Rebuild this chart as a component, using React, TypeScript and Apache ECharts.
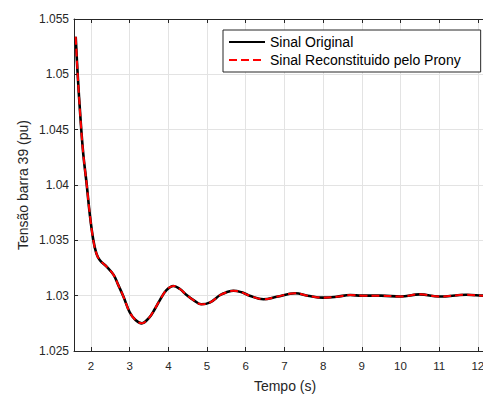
import React, { useEffect, useRef } from "react";
import * as echarts from "echarts";

const time = [1.604, 1.655, 1.73, 1.8, 1.89, 1.97, 2.06, 2.14, 2.23, 2.41, 2.58, 2.7, 2.84, 3.0, 3.15, 3.31, 3.5, 3.65, 3.78, 3.95, 4.13, 4.3, 4.47, 4.65, 4.85, 5.08, 5.34, 5.5, 5.68, 5.9, 6.1, 6.46, 6.8, 7.28, 7.6, 8.0, 8.35, 8.7, 9.0, 9.5, 10.0, 10.5, 11.0, 11.7, 12.2, 12.5];
const original = [1.0534, 1.05, 1.0459, 1.0428, 1.04, 1.0373, 1.035, 1.0338, 1.0332, 1.0326, 1.0319, 1.031, 1.0299, 1.0285, 1.0278, 1.0275, 1.028, 1.0288, 1.0296, 1.0305, 1.03088, 1.0306, 1.03006, 1.0296, 1.02922, 1.0294, 1.03006, 1.0303, 1.03045, 1.0303, 1.03, 1.02967, 1.0299, 1.03022, 1.03, 1.02982, 1.0299, 1.03006, 1.03, 1.03, 1.02992, 1.03012, 1.02992, 1.03008, 1.03, 1.03];
const prony = original.slice();

const seriesNames = ["Sinal Original", "Sinal Reconstituido pelo Prony"];
const xLabelName = "Tempo (s)";
const yLabelName = "Tensão barra 39 (pu)";

export default function App() {
  const ref = useRef<HTMLDivElement>(null);
  useEffect(() => {
    if (!ref.current) return;
    const chart = echarts.init(ref.current, null, { renderer: "svg" });
    const font = "'Liberation Sans', Arial, sans-serif";
    const axisColor = "#262626";
    const gridColor = "#e3e3e3";
    chart.setOption({
      animation: false,
      grid: { left: 74, top: 19, bottom: 43, right: 0, outerBoundsMode: "none", containLabel: false },
      legend: {
        orient: "vertical",
        left: 223,
        top: 30,
        padding: [5, 20, 5, 5],
        itemGap: 4,
        itemWidth: 36,
        itemHeight: 16,
        backgroundColor: "#fff",
        borderColor: axisColor,
        borderWidth: 1,
        borderRadius: 0,
        itemStyle: { opacity: 0 },
        textStyle: { fontFamily: font, fontSize: 14, color: "#000" },
        data: seriesNames,
      },
      xAxis: [
        {
          type: "value",
          min: 1.56,
          max: 12.47,
          splitNumber: 10,
          name: xLabelName,
          nameLocation: "middle",
          nameGap: 28,
          nameTextStyle: { fontFamily: font, fontSize: 14, color: axisColor, verticalAlign: "top" },
          axisLine: { show: true, onZero: false, lineStyle: { color: axisColor, width: 1 } },
          axisTick: { show: true, inside: true, length: 4, lineStyle: { color: axisColor } },
          axisLabel: { fontFamily: font, fontSize: 11.5, color: axisColor, margin: 9, showMinLabel: false, showMaxLabel: false },
          splitLine: { show: true, lineStyle: { color: gridColor, width: 1 } },
        },
        {
          type: "value",
          position: "top",
          min: 1.56,
          max: 12.47,
          splitNumber: 10,
          axisLine: { show: true, onZero: false, lineStyle: { color: axisColor, width: 1 } },
          axisTick: { show: true, inside: true, length: 4, lineStyle: { color: axisColor } },
          axisLabel: { show: false },
          splitLine: { show: false },
        },
      ],
      yAxis: {
        type: "value",
        min: 1.025,
        max: 1.055,
        interval: 0.005,
        name: yLabelName,
        nameLocation: "middle",
        nameGap: 44,
        nameMoveOverlap: false,
        nameTextStyle: { fontFamily: font, fontSize: 14, color: axisColor },
        axisLine: { show: true, onZero: false, lineStyle: { color: axisColor, width: 1 } },
        axisTick: { show: true, inside: true, length: 4, lineStyle: { color: axisColor } },
        axisLabel: {
          fontFamily: font,
          fontSize: 12,
          color: axisColor,
          margin: 5,
          formatter: (v: number) => String(parseFloat(v.toFixed(3))),
        },
        splitLine: { show: true, lineStyle: { color: gridColor, width: 1 } },
      },
      series: [
        {
          name: seriesNames[0],
          type: "line",
          xAxisIndex: 0,
          data: time.map((t, i) => [t, original[i]]),
          smooth: 0.4,
          symbol: "none",
          lineStyle: { color: "#000", width: 2.6 },
          itemStyle: { color: "#000" },
        },
        {
          name: seriesNames[1],
          type: "line",
          xAxisIndex: 0,
          data: time.map((t, i) => [t, prony[i]]),
          smooth: 0.4,
          symbol: "none",
          lineStyle: { color: "#ff0000", width: 2, type: [8, 4] },
          itemStyle: { color: "#ff0000" },
        },
      ],
    });
    return () => chart.dispose();
  }, []);
  return (
    <div style={{ position: "fixed", left: 0, top: 0, width: 483, height: 394, overflow: "hidden", background: "#fff" }}>
      <div ref={ref} style={{ width: 496, height: 394 }} />
    </div>
  );
}
